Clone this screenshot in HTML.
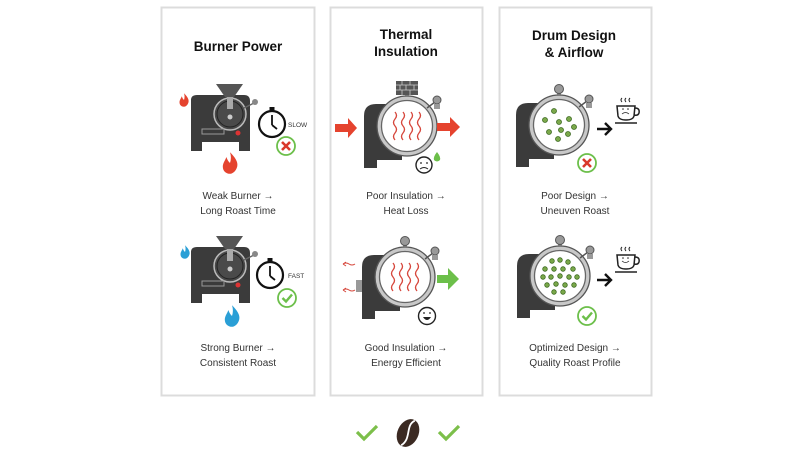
<!DOCTYPE html>
<html><head><meta charset="utf-8"><style>
html,body{margin:0;padding:0;background:#fff;}
svg{display:block;}
text{font-family:"Liberation Sans",sans-serif;}
</style></head><body>
<svg width="800" height="453" viewBox="0 0 800 453" xmlns="http://www.w3.org/2000/svg">
<defs>
  <path id="flame" d="M0,-9 C4,-5 7,-1 6,3 C5,7 2,9 0,9 C-3,9 -6,7 -6,3 C-6,0 -4,-2 -3,-5 C-2,-2 -1,-1 0,0 C1,-3 1,-6 0,-9Z"/>
  <g id="roaster">
    <path d="M191,100 Q191,95 197,95 L244,95 Q250,95 250,101 L250,151 L239,151 L239,142 L202,142 L202,151 L191,151Z" fill="#3b3b3b"/>
    <circle cx="230" cy="114" r="16" fill="#4a4a4a" stroke="#bbb" stroke-width="1.5"/>
    <circle cx="230" cy="114" r="13" fill="none" stroke="#222" stroke-width="1"/>
    <polygon points="216,84 243,84 234,97 225,97" fill="#555"/>
    <rect x="227" y="97" width="6" height="12" fill="#aaa"/>
    <circle cx="230" cy="117" r="2.5" fill="#ccc"/>
    <line x1="244" y1="108" x2="254" y2="103" stroke="#666" stroke-width="1.5"/>
    <circle cx="255" cy="102" r="3" fill="#888"/>
    <rect x="202" y="129" width="22" height="5" fill="none" stroke="#999" stroke-width="1"/>
    <circle cx="238" cy="133" r="2.5" fill="#d33"/>
  </g>
  <g id="clock">
    <circle r="13" fill="#fff" stroke="#111" stroke-width="2.2"/>
    <rect x="-2.5" y="-17" width="5" height="3" fill="#111"/>
    <line x1="0" y1="-9" x2="0" y2="1" stroke="#111" stroke-width="1.8"/>
    <line x1="0" y1="1" x2="5" y2="5" stroke="#111" stroke-width="1.8"/>
  </g>
  <g id="xmark">
    <circle r="9" fill="#fff" stroke="#6cbf4a" stroke-width="1.8"/>
    <path d="M-4,-4 L4,4 M4,-4 L-4,4" stroke="#d9382b" stroke-width="2.6"/>
  </g>
  <g id="ckmark">
    <circle r="9" fill="#fff" stroke="#6cbf4a" stroke-width="1.8"/>
    <path d="M-4.5,0 L-1,3.5 L5,-3.5" fill="none" stroke="#6cbf4a" stroke-width="2.4"/>
  </g>
  <g id="drum">
    <path d="M-43,-10 Q-43,-22 -31,-22 L-5,-22 L-5,34 L-30,34 L-30,42 L-43,42Z" fill="#3b3b3b"/>
    <circle cx="0" cy="0" r="30" fill="#c8c8c8" stroke="#555" stroke-width="1.3"/>
    <circle cx="0" cy="0" r="25.5" fill="#fff" stroke="#666" stroke-width="1.3"/>
    <rect x="-2" y="-36" width="4" height="6" fill="#777"/>
    <circle cx="0" cy="-36" r="4.5" fill="#999" stroke="#555"/>
    <line x1="20" y1="-18" x2="28" y2="-24" stroke="#555" stroke-width="1.5"/>
    <circle cx="30" cy="-26" r="4" fill="#999" stroke="#555"/>
    <rect x="27" y="-22" width="6" height="5" fill="#999"/>
  </g>
  <g id="waves" fill="none" stroke="#d6453a" stroke-width="1.3">
    <path d="M-12,-14 q3,3.5 0,7 q-3,3.5 0,7 q3,3.5 0,7 q-3,3.5 0,7"/>
    <path d="M-4,-14 q3,3.5 0,7 q-3,3.5 0,7 q3,3.5 0,7 q-3,3.5 0,7"/>
    <path d="M4,-14 q3,3.5 0,7 q-3,3.5 0,7 q3,3.5 0,7 q-3,3.5 0,7"/>
    <path d="M12,-14 q3,3.5 0,7 q-3,3.5 0,7 q3,3.5 0,7 q-3,3.5 0,7"/>
  </g>
  <g id="cup" fill="none" stroke="#222" stroke-width="1.5">
    <path d="M-9,-5 L9,-5 L8,5 Q7,9 0,9 Q-7,9 -8,5Z" fill="#fff"/>
    <path d="M9,-3 Q14,-3 13,2 Q12,5 8,4"/>
    <line x1="-11" y1="12" x2="11" y2="12"/>
    <path d="M-4,-9 q-2,-2 0,-4 M0,-9 q-2,-2 0,-4 M4,-9 q-2,-2 0,-4" stroke-width="1"/>
  </g>
</defs>

<rect x="161.5" y="7.5" width="153" height="388" fill="#fff" stroke="#dcdcdc" stroke-width="2"/>
<rect x="330.5" y="7.5" width="152" height="388" fill="#fff" stroke="#dcdcdc" stroke-width="2"/>
<rect x="499.5" y="7.5" width="152" height="388" fill="#fff" stroke="#dcdcdc" stroke-width="2"/>

<text x="238" y="51" text-anchor="middle" font-size="13.5" font-weight="bold" fill="#111">Burner Power</text>
<text x="406" y="39" text-anchor="middle" font-size="13.5" font-weight="bold" fill="#111">Thermal</text>
<text x="406" y="56" text-anchor="middle" font-size="13.5" font-weight="bold" fill="#111">Insulation</text>
<text x="574" y="40" text-anchor="middle" font-size="13.5" font-weight="bold" fill="#111">Drum Design</text>
<text x="574" y="57" text-anchor="middle" font-size="13.5" font-weight="bold" fill="#111">&amp; Airflow</text>

<use href="#roaster"/>
<g transform="translate(230,163) scale(1.2)"><use href="#flame" fill="#e5432e"/></g>
<g transform="translate(184,100) scale(0.75)"><use href="#flame" fill="#e5432e"/></g>
<use href="#clock" x="272" y="124"/>
<text x="288" y="127" font-size="6.5" fill="#333">SLOW</text>
<use href="#xmark" x="286" y="146"/>
<text x="238" y="199" text-anchor="middle" font-size="10" fill="#333">Weak Burner →</text>
<text x="238" y="214" text-anchor="middle" font-size="10" fill="#333">Long Roast Time</text>

<g transform="translate(0,152)"><use href="#roaster"/></g>
<g transform="translate(185,252) scale(0.75)"><use href="#flame" fill="#2a9fd6"/></g>
<g transform="translate(232,316) scale(1.2)"><use href="#flame" fill="#2a9fd6"/></g>
<use href="#clock" x="270" y="275"/>
<text x="288" y="278" font-size="6.5" fill="#333">FAST</text>
<use href="#ckmark" x="287" y="298"/>
<text x="238" y="351" text-anchor="middle" font-size="10" fill="#333">Strong Burner →</text>
<text x="238" y="366" text-anchor="middle" font-size="10" fill="#333">Consistent Roast</text>

<g transform="translate(407,126)"><use href="#drum"/><use href="#waves"/></g>
<g>
  <rect x="396" y="81" width="22" height="14" fill="#555"/>
  <path d="M396,85 H418 M396,90 H418 M402,81 V85 M410,81 V85 M406,85 V90 M414,85 V90 M400,85 V90 M402,90 V95 M410,90 V95" stroke="#ccc" stroke-width="0.8"/>
</g>
<path d="M335,124 H348 V118 L357,128 L348,138 V132 H335Z" fill="#e5432e"/>
<path d="M437,123 H450 V117 L460,127 L450,137 V131 H437Z" fill="#e5432e"/>
<circle cx="424" cy="165" r="8" fill="#fff" stroke="#222" stroke-width="1.4"/>
<circle cx="421" cy="163" r="0.9" fill="#222"/><circle cx="427" cy="163" r="0.9" fill="#222"/>
<path d="M420,169 Q424,166 428,169" fill="none" stroke="#222" stroke-width="1"/>
<path d="M437,152 Q433,157 434,160 Q437,163 440,160 Q441,157 437,152Z" fill="#6cbf4a"/>
<text x="406" y="199" text-anchor="middle" font-size="10" fill="#333">Poor Insulation →</text>
<text x="406" y="214" text-anchor="middle" font-size="10" fill="#333">Heat Loss</text>

<g transform="translate(405,277)"><use href="#drum"/><use href="#waves"/></g>
<rect x="356" y="280" width="6" height="12" fill="#999"/>
<path d="M343,264 q3,-2 6,0 q3,2 6,0 M343,264 l3,-2 M343,264 l3,2" fill="none" stroke="#d6453a" stroke-width="1"/>
<path d="M343,290 q3,-2 6,0 q3,2 6,0 M343,290 l3,-2 M343,290 l3,2" fill="none" stroke="#d6453a" stroke-width="1"/>
<path d="M437,275 H448 V268 L459,279 L448,290 V283 H437Z" fill="#6cbf4a"/>
<circle cx="427" cy="316" r="8.5" fill="#fff" stroke="#222" stroke-width="1.4"/>
<circle cx="424" cy="313" r="0.9" fill="#222"/><circle cx="430" cy="313" r="0.9" fill="#222"/>
<path d="M423,317 Q427,323 431,317Z" fill="#222"/>
<text x="406" y="351" text-anchor="middle" font-size="10" fill="#333">Good Insulation →</text>
<text x="406" y="366" text-anchor="middle" font-size="10" fill="#333">Energy Efficient</text>

<g transform="translate(559,125)"><use href="#drum"/>
  <g fill="#7aa84a" stroke="#3d6a22" stroke-width="0.8">
    <circle cx="-5" cy="-14" r="2.5"/><circle cx="-14" cy="-5" r="2.5"/><circle cx="0" cy="-3" r="2.5"/>
    <circle cx="10" cy="-6" r="2.5"/><circle cx="15" cy="2" r="2.5"/><circle cx="-10" cy="7" r="2.5"/>
    <circle cx="9" cy="9" r="2.5"/><circle cx="-1" cy="14" r="2.5"/><circle cx="2" cy="5" r="2.5"/>
  </g>
</g>
<path d="M597,129 H611 M605,123 L611,129 L605,135" fill="none" stroke="#111" stroke-width="2.4"/>
<use href="#cup" x="626" y="111"/>
<circle cx="623" cy="109" r="0.8" fill="#222"/><circle cx="628" cy="109" r="0.8" fill="#222"/>
<path d="M622,114 Q625.5,111 629,114" fill="none" stroke="#222" stroke-width="0.8"/>
<use href="#xmark" x="587" y="163"/>
<text x="575" y="199" text-anchor="middle" font-size="10" fill="#333">Poor Design →</text>
<text x="575" y="214" text-anchor="middle" font-size="10" fill="#333">Uneuven Roast</text>

<g transform="translate(560,276)"><use href="#drum"/>
  <g fill="#7aa84a" stroke="#3d6a22" stroke-width="0.8">
    <circle cx="-8" cy="-15" r="2.3"/><circle cx="0" cy="-16" r="2.3"/><circle cx="8" cy="-14" r="2.3"/>
    <circle cx="-15" cy="-7" r="2.3"/><circle cx="-6" cy="-7" r="2.3"/><circle cx="3" cy="-7" r="2.3"/><circle cx="13" cy="-7" r="2.3"/>
    <circle cx="-17" cy="1" r="2.3"/><circle cx="-9" cy="1" r="2.3"/><circle cx="0" cy="0" r="2.3"/><circle cx="9" cy="1" r="2.3"/><circle cx="17" cy="1" r="2.3"/>
    <circle cx="-13" cy="9" r="2.3"/><circle cx="-4" cy="8" r="2.3"/><circle cx="5" cy="9" r="2.3"/><circle cx="14" cy="9" r="2.3"/>
    <circle cx="-6" cy="16" r="2.3"/><circle cx="3" cy="16" r="2.3"/>
  </g>
</g>
<path d="M597,280 H611 M605,274 L611,280 L605,286" fill="none" stroke="#111" stroke-width="2.4"/>
<use href="#cup" x="626" y="260"/>
<circle cx="623" cy="258" r="0.8" fill="#222"/><circle cx="628" cy="258" r="0.8" fill="#222"/>
<path d="M622,261 Q625.5,264 629,261" fill="none" stroke="#222" stroke-width="0.8"/>
<use href="#ckmark" x="587" y="316"/>
<text x="575" y="351" text-anchor="middle" font-size="10" fill="#333">Optimized Design →</text>
<text x="575" y="366" text-anchor="middle" font-size="10" fill="#333">Quality Roast Profile</text>

<path d="M357,432 L364,439 L377,426" fill="none" stroke="#7cbf4a" stroke-width="3.2"/>
<path d="M439,432 L446,439 L459,426" fill="none" stroke="#7cbf4a" stroke-width="3.2"/>
<g transform="translate(408,433) rotate(25)">
  <ellipse rx="10.5" ry="14.5" fill="#3b2a22"/>
  <path d="M1,-14 C-6,-6 6,4 -1,14" fill="none" stroke="#fff" stroke-width="1.8"/>
</g>
</svg>
</body></html>
